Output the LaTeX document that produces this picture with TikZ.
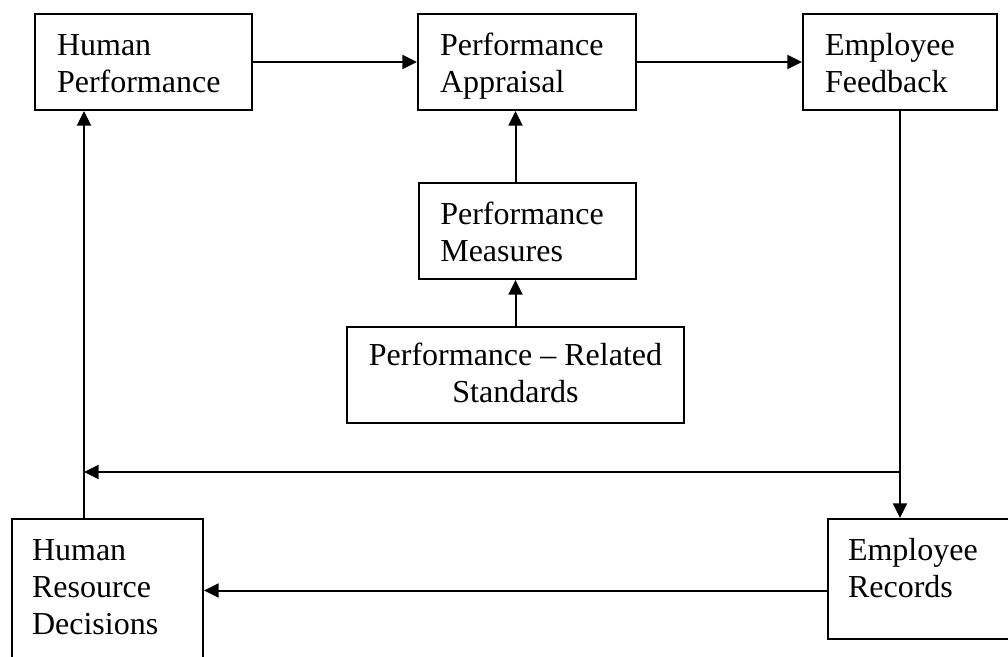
\documentclass[tikz,border=0pt]{standalone}
\usepackage{fontspec}
\setmainfont{Liberation Serif}
\usetikzlibrary{arrows.meta}
\newcommand\tp{\rule{0pt}{22.5pt}}
\newcommand\bt[1]{\rule[-#1]{0pt}{#1}}
\tikzset{
  box/.style={draw, line width=1.5pt, rectangle, inner ysep=0pt, align=left,
    font=\fontsize{24}{27.75}\selectfont},
  arr/.style={line width=1.5pt, -{Triangle[length=11pt,width=10.5pt]}},
}
\begin{document}
\begin{tikzpicture}[x=0.75pt,y=-0.75pt]
\useasboundingbox (0,0) rectangle (1008,657);
\clip (0,0) rectangle (1008,657);
\fill[white] (0,0) rectangle (1008,657);
% boxes
\node[box, minimum width=162.75pt, minimum height=72pt, inner xsep=16.5pt, text width=129.75pt] (hp) at (143.5,62) {\tp Human\\Performance\bt{5.25pt}};
\node[box, minimum width=163.5pt, minimum height=72pt, inner xsep=16.5pt, text width=130.5pt] (pa) at (527,62) {\tp Performance\\Appraisal\bt{5.25pt}};
\node[box, minimum width=145.5pt, minimum height=72pt, inner xsep=16.5pt, text width=112.5pt] (ef) at (900,62) {\tp Employee\\Feedback\bt{5.25pt}};
\node[box, minimum width=162.75pt, minimum height=72pt, inner xsep=16pt, text width=130.75pt] (pm) at (527.5,231) {\tp Performance\\Measures\bt{5.25pt}};
\node[box, align=center, minimum width=252.75pt, minimum height=72pt] (prs) at (515.5,375) {\tp Performance – Related\\Standards\bt{9.75pt}};
\node[box, minimum width=143.25pt, minimum height=107.25pt, inner xsep=15pt, text width=113.25pt] (hrd) at (107.5,590.5) {\tp Human\\Resource\\Decisions\bt{12.75pt}};
\node[box, minimum width=144pt, minimum height=90pt, inner xsep=15pt, text width=114pt] (er) at (924,579) {\tp Employee\\Records\bt{23.25pt}};
% junction coordinates
\coordinate (j) at (900,472);
\coordinate (k) at (84,472);
% connectors
\draw[arr] (hp.east) -- (pa.west);
\draw[arr] (pa.east) -- (ef.west);
\draw[arr] (prs.north) -- (prs.north |- pm.south);
\draw[arr] (prs.north |- pm.north) -- (prs.north |- pa.south);
\draw[arr] (ef.south) -- (ef.south |- er.north);
\draw[arr] (j) -- (k);
\draw[arr] (hrd.north -| k) -- (hp.south -| k);
\draw[arr] (er.west |- hrd.east) -- (hrd.east);
\end{tikzpicture}
\end{document}
